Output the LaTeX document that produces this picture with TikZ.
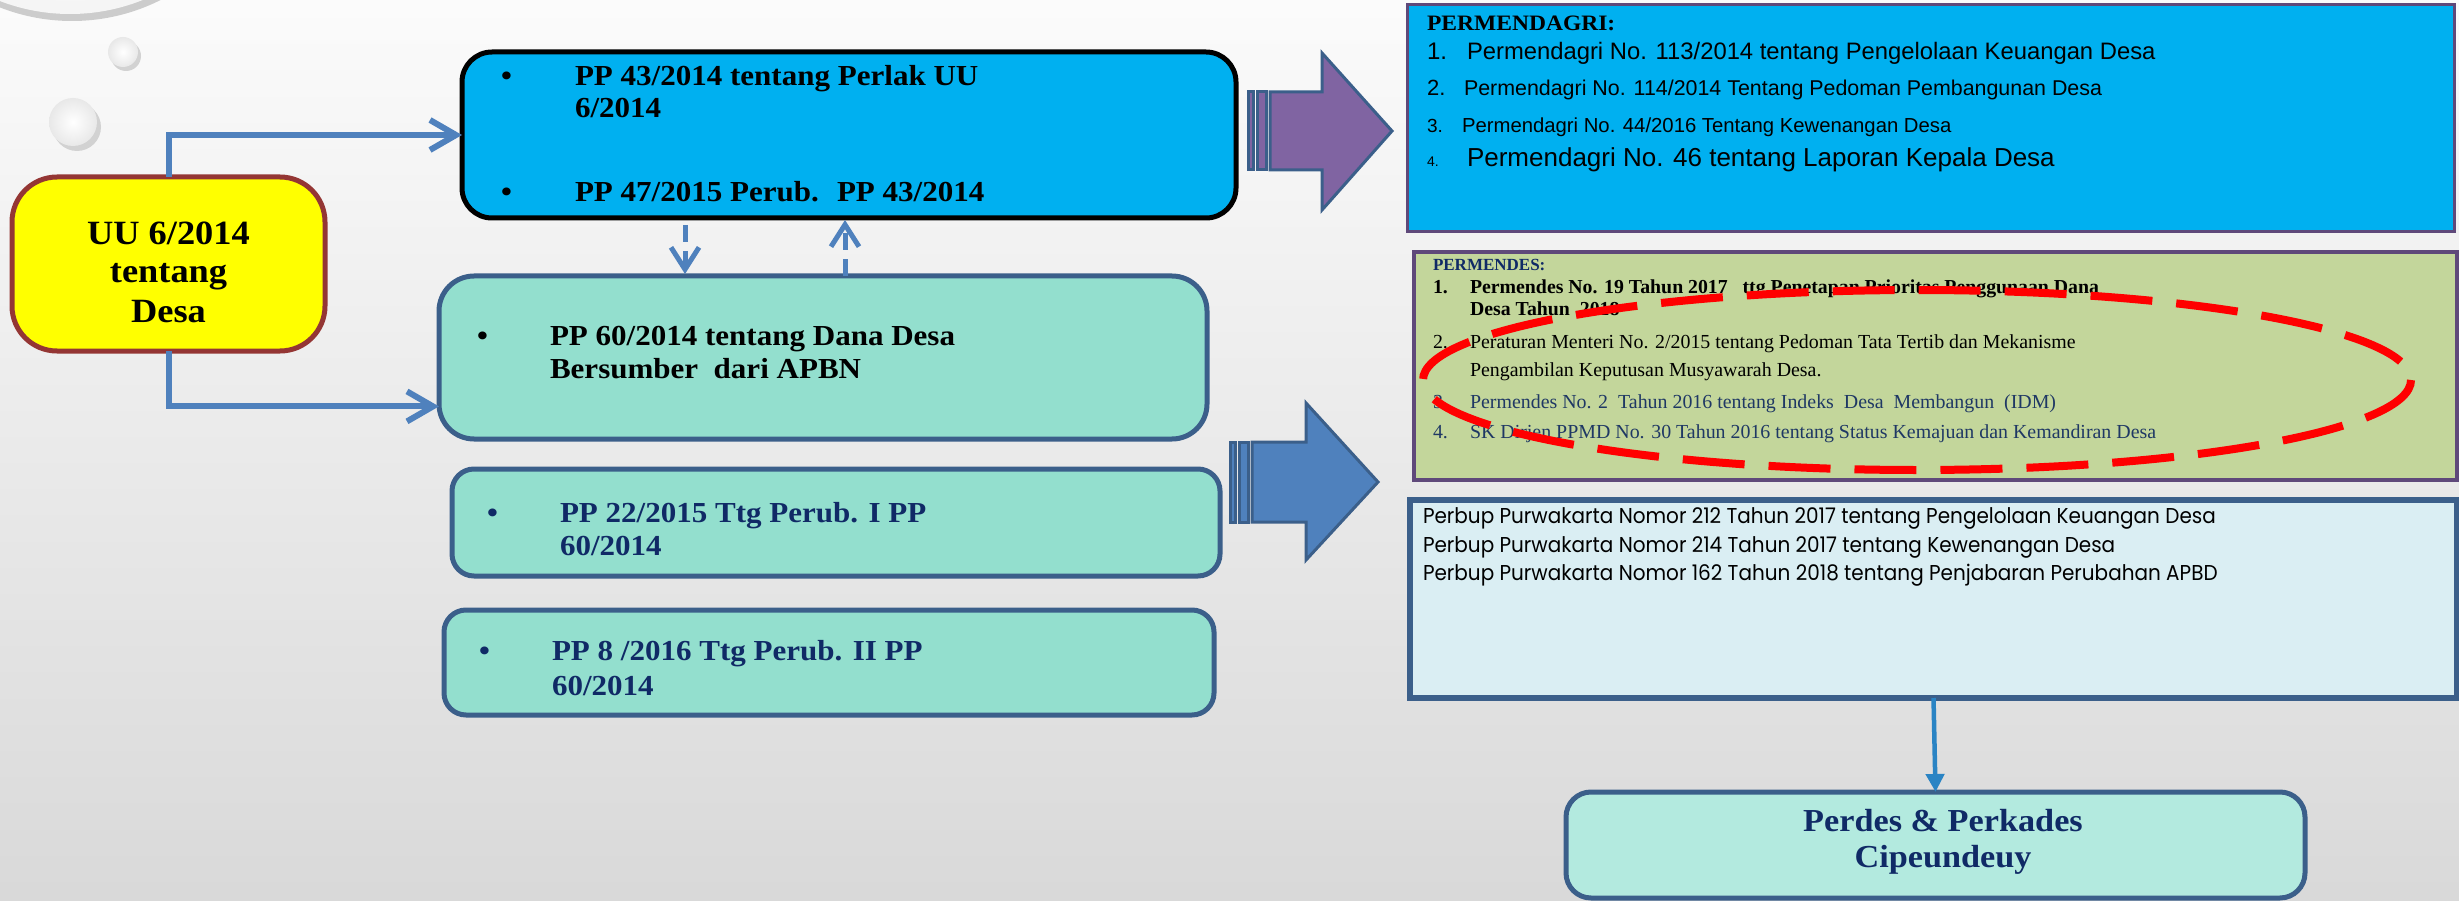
\documentclass[tikz,border=0pt]{standalone}
\usepackage{fontspec}
\setmainfont{Liberation Serif}
\newfontfamily\cam[FakeStretch=1.07]{Liberation Serif}
\newfontfamily\arialf{Liberation Sans}
\newfontfamily\twf[FakeStretch=0.93]{Poppins}
\usetikzlibrary{arrows.meta,calc}
\definecolor{yel}{HTML}{FFFF00}
\definecolor{yelborder}{HTML}{943634}
\definecolor{cyanfill}{HTML}{00B0F0}
\definecolor{tealfill}{HTML}{93DFCE}
\definecolor{tealfill2}{HTML}{B3EADF}
\definecolor{boxborder}{HTML}{3B5F8A}
\definecolor{purpborder}{HTML}{5F497A}
\definecolor{olivefill}{HTML}{C3D69B}
\definecolor{paleblue}{HTML}{DAEEF3}
\definecolor{linkblue}{HTML}{4F81BD}
\definecolor{arrowblue}{HTML}{2A84C4}
\definecolor{purpfill}{HTML}{8064A2}
\definecolor{navy}{HTML}{102A66}
\definecolor{navy2}{HTML}{1F3864}
\newcommand\setfs[1]{\fontsize{#1}{#1}\selectfont}
\begin{document}
\begin{tikzpicture}[x=1pt,y=-1pt,
  box/.style={draw, inner sep=0pt, outer sep=0pt},
  t/.style={inner sep=0pt, outer sep=0pt, anchor=base west},
  tc/.style={inner sep=0pt, outer sep=0pt, anchor=base},
  conn/.style={draw=linkblue, line width=6pt, -{Straight Barb[length=26pt,width=30pt]}},
  dconn/.style={draw=linkblue, line width=5pt, dash pattern=on 17pt off 9pt, -{Straight Barb[length=22pt,width=28pt]}},
  bigb/.style={font=\cam\bfseries\setfs{29}},
  sarrow/.style={draw=boxborder, line width=3pt, line join=miter}
]
\useasboundingbox (0,0) rectangle (2459,901);
% background
\shade[top color=white!97!gray, bottom color=gray!30] (0,0) rectangle (2459,901);
% bubbles
\fill[gray!40] (72,-176) circle (197);
\shade[inner color=white, outer color=white!92!gray] (70,-181) circle (195);
\fill[gray!35] (126,56) circle (15);
\shade[inner color=white, outer color=gray!18] (123,52) circle (15);
\fill[gray!35] (77,127) circle (24);
\shade[inner color=white, outer color=gray!18] (73,122) circle (24);

% ---------- left column ----------
\node[box, fill=yel, draw=yelborder, line width=5pt, rounded corners=45pt,
      minimum width=313pt, minimum height=174pt] (uu) at (168.5,264) {};
\node[tc, font=\cam\bfseries\setfs{34}] (uu1) at (168.5,245) {UU 6/2014};
\node[tc, font=\cam\bfseries\setfs{34}] (uu2) at (168.5,283) {tentang};
\node[tc, font=\cam\bfseries\setfs{34}] (uu3) at (168.5,322) {Desa};

\node[box, fill=cyanfill, draw=black, line width=5pt, rounded corners=30pt,
      minimum width=774pt, minimum height=166pt] (pp43) at (849,135) {};
\node[t, bigb] (b43a) at (501,86) {\textbullet};
\node[t, bigb] (pp43a) at (575,86) {PP 43/2014 tentang Perlak UU};
\node[t, bigb] (pp43b) at (575,118) {6/2014};
\node[t, bigb] (b43b) at (501,202) {\textbullet};
\node[t, bigb] (pp43c) at (575,202) {PP 47/2015 Perub.~ PP 43/2014};

\node[box, fill=tealfill, draw=boxborder, line width=5pt, rounded corners=35pt,
      minimum width=768pt, minimum height=163pt] (pp60) at (823,357.5) {};
\node[t, bigb] (b60) at (477,345) {\textbullet};
\node[t, bigb] (pp60a) at (550,345) {PP 60/2014 tentang Dana Desa};
\node[t, bigb] (pp60b) at (550,378) {Bersumber~ dari APBN};

\node[box, fill=tealfill, draw=boxborder, line width=5pt, rounded corners=22pt,
      minimum width=768pt, minimum height=107pt] (pp22) at (836,522.5) {};
\node[t, bigb, text=navy] (b22) at (487,522) {\textbullet};
\node[t, bigb, text=navy] (pp22a) at (560,522) {PP 22/2015 Ttg Perub. I PP};
\node[t, bigb, text=navy] (pp22b) at (560,555) {60/2014};

\node[box, fill=tealfill, draw=boxborder, line width=5pt, rounded corners=22pt,
      minimum width=770pt, minimum height=105pt] (pp8) at (829,662.5) {};
\node[t, bigb, text=navy] (b8) at (479,660) {\textbullet};
\node[t, bigb, text=navy] (pp8a) at (552,660) {PP 8 /2016 Ttg Perub. II PP};
\node[t, bigb, text=navy] (pp8b) at (552,695) {60/2014};

% connectors
\coordinate (in60) at ($(pp60.south west)!0.2!(pp60.north west)$);
\draw[conn] (uu.north) |- (pp43.west);
\draw[conn] (uu.south) |- (in60);
\draw[dconn] ($(pp43.south west)+(223,7)$) -- ($(pp60.north west)+(246,-2)$);
\draw[dconn] ($(pp60.north west)+(406,0)$) -- ($(pp43.south west)+(383,2)$);

% striped block arrows
\filldraw[sarrow, fill=purpfill] (1248,92) rectangle (1253,170);
\filldraw[sarrow, fill=purpfill] (1257,92) rectangle (1266,170);
\filldraw[sarrow, fill=purpfill] (1270,92) -- (1322,92) -- (1322,53) -- (1392,131)
   -- (1322,210) -- (1322,170) -- (1270,170) -- cycle;
\filldraw[sarrow, fill=linkblue] (1230,442) rectangle (1235,522);
\filldraw[sarrow, fill=linkblue] (1239,442) rectangle (1248,522);
\filldraw[sarrow, fill=linkblue] (1252,442) -- (1306,442) -- (1306,403) -- (1378,482)
   -- (1306,560) -- (1306,522) -- (1252,522) -- cycle;

% ---------- right column ----------
\node[box, fill=cyanfill, draw=purpborder, line width=3pt,
      minimum width=1047pt, minimum height=227pt] (dagri) at (1930.5,118.5) {};
\node[t, font=\cam\bfseries\setfs{22}] (dagh) at (1427,31) {PERMENDAGRI:};
\node[t, font=\arialf\setfs{24}] (dn1) at (1427,60) {1.};
\node[t, font=\arialf\setfs{23.8}] (d1) at (1467,60) {Permendagri No. 113/2014 tentang Pengelolaan Keuangan Desa};
\node[t, font=\arialf\setfs{22}] (dn2) at (1427,96) {2.};
\node[t, font=\arialf\setfs{21.4}] (d2) at (1464,96) {Permendagri No. 114/2014 Tentang Pedoman Pembangunan Desa};
\node[t, font=\arialf\setfs{19}] (dn3) at (1427,133) {3.};
\node[t, font=\arialf\setfs{20.3}] (d3) at (1462,133) {Permendagri No. 44/2016 Tentang Kewenangan Desa};
\node[t, font=\arialf\setfs{14}] (dn4) at (1427,167) {4.};
\node[t, font=\arialf\setfs{26}] (d4) at (1467,167) {Permendagri No. 46 tentang Laporan Kepala Desa};

\node[box, fill=olivefill, draw=purpborder, line width=4.5pt,
      minimum width=1043pt, minimum height=228pt] (des) at (1935.5,366) {};
\node[t, font=\bfseries\setfs{17}, text=navy] (desh) at (1433,271) {PERMENDES:};
\node[t, font=\bfseries\setfs{19.8}] (en1) at (1433,293) {1.};
\node[t, font=\bfseries\setfs{19.8}] (e1a) at (1470,293) {Permendes No. 19 Tahun 2017~~ ttg Penetapan Prioritas Penggunaan Dana};
\node[t, font=\bfseries\setfs{19.8}] (e1b) at (1470,315) {Desa Tahun~ 2018};
\node[t, font=\setfs{19.9}] (en2) at (1433,348) {2.};
\node[t, font=\setfs{19.9}] (e2a) at (1470,348) {Peraturan Menteri No. 2/2015 tentang Pedoman Tata Tertib dan Mekanisme};
\node[t, font=\setfs{19.9}] (e2b) at (1470,376) {Pengambilan Keputusan Musyawarah Desa.};
\node[t, font=\setfs{19.9}, text=navy2] (en3) at (1433,408) {3.};
\node[t, font=\setfs{19.9}, text=navy2] (e3) at (1470,408) {Permendes No. 2~ Tahun 2016 tentang Indeks~ Desa~ Membangun~ (IDM)};
\node[t, font=\setfs{19.9}, text=navy2] (en4) at (1433,438) {4.};
\node[t, font=\setfs{19.9}, text=navy2] (e4) at (1470,438) {SK Dirjen PPMD No. 30 Tahun 2016 tentang Status Kemajuan dan Kemandiran Desa};
\draw[red, line width=8pt, dash pattern=on 62pt off 24pt] (1917,380) ellipse [x radius=494, y radius=90];

\node[box, fill=paleblue, draw=boxborder, line width=6pt,
      minimum width=1047pt, minimum height=198pt] (perbup) at (1933.5,599) {};
\node[t, font=\twf\setfs{21.5}] (p1) at (1423,523) {Perbup Purwakarta Nomor 212 Tahun 2017 tentang Pengelolaan Keuangan Desa};
\node[t, font=\twf\setfs{21.5}] (p2) at (1423,552) {Perbup Purwakarta Nomor 214 Tahun 2017 tentang Kewenangan Desa};
\node[t, font=\twf\setfs{21.5}] (p3) at (1423,580) {Perbup Purwakarta Nomor 162 Tahun 2018 tentang Penjabaran Perubahan APBD};

\node[box, fill=tealfill2, draw=boxborder, line width=5pt, rounded corners=25pt,
      minimum width=739pt, minimum height=106pt] (perdes) at (1935.5,845) {};
\node[tc, font=\cam\bfseries\setfs{32}, text=navy] (pd1) at (1943,831) {Perdes \& Perkades};
\node[tc, font=\cam\bfseries\setfs{32}, text=navy] (pd2) at (1943,867) {Cipeundeuy};

\draw[draw=arrowblue, line width=4.5pt, -{Triangle[length=18pt,width=18pt]}] (perbup.south) -- (perdes.north);
\end{tikzpicture}
\end{document}
